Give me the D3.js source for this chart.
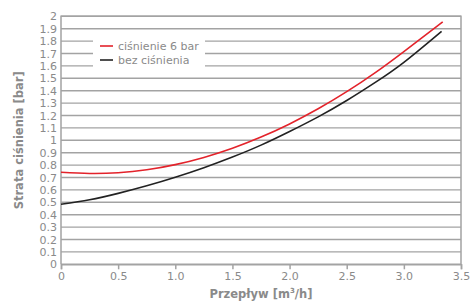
<!DOCTYPE html>
<html>
<head>
<meta charset="utf-8">
<script src="https://cdn.jsdelivr.net/npm/d3@7"></script>
<style>
  body { margin: 0; background: #fff; }
  svg text { font-family: "DejaVu Sans", sans-serif; fill: #8a8a8a; }
</style>
</head>
<body>
<svg id="chart" width="473" height="302"></svg>
<script>
// flow [m3/h] and pressure loss [bar]
var flowRed = [0, 0.25, 0.5, 0.75, 1.0, 1.25, 1.5, 1.75, 2.0, 2.25, 2.5, 2.75, 3.0, 3.34];
var lossRed = [0.742, 0.732, 0.738, 0.762, 0.804, 0.862, 0.936, 1.026, 1.132, 1.254, 1.392, 1.546, 1.716, 1.955];
var flowBlack = [0, 0.25, 0.5, 0.75, 1.0, 1.25, 1.5, 1.75, 2.0, 2.25, 2.5, 2.75, 3.0, 3.33];
var lossBlack = [0.484, 0.520, 0.572, 0.633, 0.702, 0.779, 0.865, 0.961, 1.071, 1.189, 1.321, 1.467, 1.629, 1.879];
var seriesNames = ["ciśnienie 6 bar", "bez ciśnienia"];
var seriesColors = ["#e3232b", "#222222"];
var xTicks = [0, 0.5, 1.0, 1.5, 2.0, 2.5, 3.0, 3.5];
var yTicks = d3.range(0, 21).map(function(i) { return i / 10; });

var svg = d3.select("#chart");
var margin = {left: 61, right: 12, top: 16.3, bottom: 37.7};
var width = 473 - margin.left - margin.right;
var height = 302 - margin.top - margin.bottom;

var x = d3.scaleLinear().domain([0, 3.5]).range([0, width]);
var y = d3.scaleLinear().domain([0, 2]).range([height, 0]);

var g = svg.append("g").attr("transform", "translate(" + margin.left + "," + margin.top + ")");

// horizontal grid
g.selectAll("line.grid")
  .data(yTicks)
  .enter().append("line")
  .attr("class", "grid")
  .attr("x1", 0).attr("x2", width)
  .attr("y1", function(d) { return y(d); })
  .attr("y2", function(d) { return y(d); })
  .attr("stroke", "#a3a3a3")
  .attr("stroke-width", 1.4);

// frame: left, right, top
g.append("path")
  .attr("d", "M0," + height + "V0H" + width + "V" + height)
  .attr("fill", "none")
  .attr("stroke", "#a3a3a3")
  .attr("stroke-width", 1.5);

// x axis
var xAxis = g.append("g")
  .attr("transform", "translate(0," + height + ")")
  .call(d3.axisBottom(x).tickValues(xTicks).tickFormat(function(d) { return d === 0 ? "0" : d3.format(".1f")(d); }).tickSize(5).tickPadding(3));
xAxis.selectAll("line, path").attr("stroke", "#a3a3a3").attr("stroke-width", 1.5);
xAxis.selectAll("text").attr("font-size", 11).style("fill", "#8a8a8a");

// y axis
var yAxis = g.append("g")
  .call(d3.axisLeft(y).tickValues(yTicks).tickFormat(d3.format("")).tickSize(0).tickPadding(4));
yAxis.select("path").remove();
yAxis.selectAll("text").attr("font-size", 11).style("fill", "#8a8a8a");

// curves
var line = d3.line().curve(d3.curveNatural)
  .x(function(d) { return x(d[0]); })
  .y(function(d) { return y(d[1]); });

g.append("path")
  .datum(d3.zip(flowRed, lossRed))
  .attr("d", line)
  .attr("fill", "none")
  .attr("stroke", seriesColors[0])
  .attr("stroke-width", 1.6);

g.append("path")
  .datum(d3.zip(flowBlack, lossBlack))
  .attr("d", line)
  .attr("fill", "none")
  .attr("stroke", seriesColors[1])
  .attr("stroke-width", 1.6);

// legend
var legend = svg.append("g").attr("transform", "translate(93,39)");
legend.append("rect")
  .attr("width", 112).attr("height", 30)
  .attr("fill", "#fff");
seriesNames.forEach(function(name, i) {
  var row = legend.append("g").attr("transform", "translate(0," + (7 + i * 14) + ")");
  row.append("line")
    .attr("x1", 7).attr("x2", 20)
    .attr("stroke", seriesColors[i])
    .attr("stroke-width", 1.6);
  row.append("text")
    .attr("x", 25).attr("y", 4)
    .attr("font-size", 11)
    .text(name);
});

// axis titles
svg.append("text")
  .attr("transform", "translate(23," + (margin.top + height / 2) + ") rotate(-90)")
  .attr("text-anchor", "middle")
  .attr("font-size", 11.5)
  .attr("font-weight", "bold")
  .text("Strata ciśnienia [bar]");

var xt = svg.append("text")
  .attr("x", margin.left + width / 2)
  .attr("y", 298)
  .attr("text-anchor", "middle")
  .attr("font-size", 11.5)
  .attr("font-weight", "bold");
xt.append("tspan").text("Przepływ [m");
xt.append("tspan").attr("font-size", 7).attr("dy", -5).text("3");
xt.append("tspan").attr("dy", 5).text("/h]");
</script>
</body>
</html>
